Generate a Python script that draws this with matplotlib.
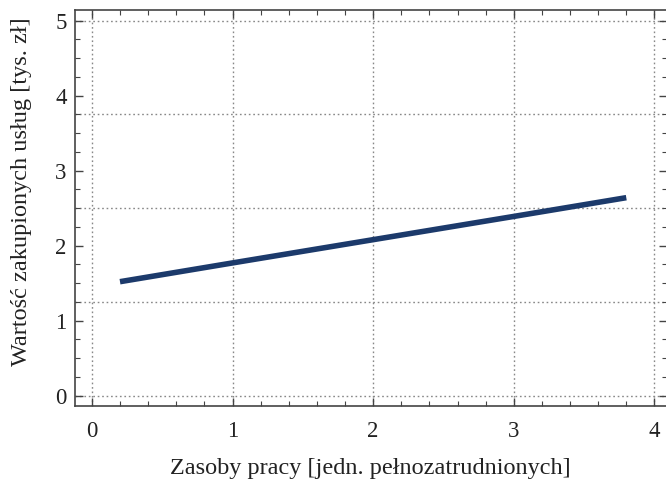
import numpy as np
import matplotlib
matplotlib.use('Agg')
import matplotlib.pyplot as plt
from matplotlib.ticker import MultipleLocator, FixedLocator

# dane
x_vals = [0.2, 1.0, 2.0, 3.0, 3.8]
y_vals = [1.52, 1.77, 2.08, 2.39, 2.64]
x_ticks = [0, 1, 2, 3, 4]
y_ticks = [0, 1, 2, 3, 4, 5]
x_grid = [0, 1, 2, 3, 4]
y_grid = [0, 1.25, 2.5, 3.75, 5]

plt.rcParams['font.family'] = ['Liberation Serif', 'DejaVu Serif']

fig = plt.figure(figsize=(6.66, 4.82), dpi=100)
ax = fig.add_axes([0.1126, 0.1577, 0.889, 0.8213])

ax.plot(x_vals, y_vals, color='#1c3a6b', lw=4, solid_capstyle='butt', zorder=3)

ax.set_xlim(-0.12, 4.09)
ax.set_ylim(-0.137, 5.14)

ax.xaxis.set_major_locator(FixedLocator(x_ticks))
ax.yaxis.set_major_locator(FixedLocator(y_ticks))
ax.xaxis.set_minor_locator(MultipleLocator(0.2))
ax.yaxis.set_minor_locator(MultipleLocator(0.25))
ax.tick_params(which='both', direction='in', top=True, right=True,
               color='#444444', labelsize=16.5, labelcolor='#222222')
ax.tick_params(which='major', length=6, width=1)
ax.tick_params(which='minor', length=3.5, width=0.8)
ax.tick_params(axis='x', which='major', pad=11)
ax.tick_params(axis='y', which='major', pad=6)

for g in x_grid:
    ax.axvline(g, color='#888888', ls=(0, (1.2, 2)), lw=1, zorder=1)
for g in y_grid:
    ax.axhline(g, color='#888888', ls=(0, (1.2, 2)), lw=1, zorder=1)

for s in ax.spines.values():
    s.set_color('#444444')
    s.set_linewidth(1.2)

ax.set_xlabel('Zasoby pracy [jedn. pełnozatrudnionych]', fontsize=17.5,
              color='#222222', va='center')
ax.set_ylabel('Wartość zakupionych usług [tys. zł]', fontsize=17.5,
              color='#222222', va='center')
ax.xaxis.set_label_coords(0.499, -0.157)
ax.yaxis.set_label_coords(-0.09, 0.542)

fig.savefig('out.png', dpi=100)
